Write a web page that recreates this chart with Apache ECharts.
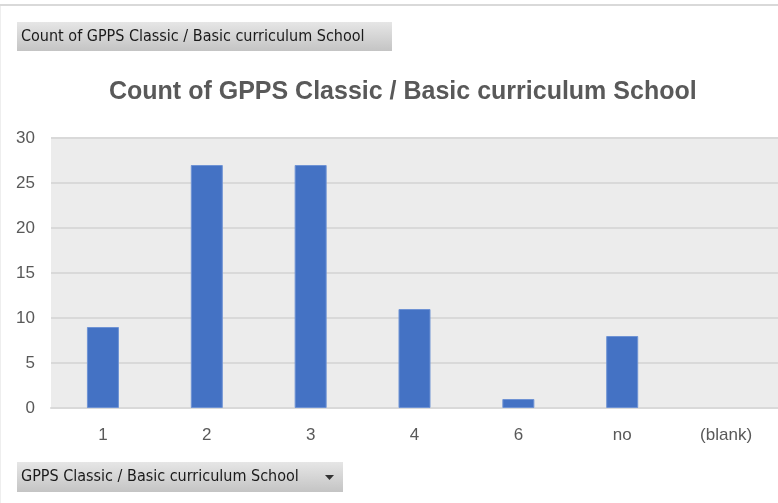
<!DOCTYPE html>
<html><head><meta charset="utf-8">
<script src="https://cdn.jsdelivr.net/npm/echarts@6/dist/echarts.min.js"></script>
<style>html,body{margin:0;padding:0;background:#fff}#c{width:778px;height:503px}</style>
</head><body><div id="c"></div>
<script>
var categories = ['1', '2', '3', '4', '6', 'no', '(blank)'];
var counts = [9, 27, 27, 11, 1, 8, null];
var yTicks = [0, 5, 10, 15, 20, 25, 30];
var titleText = 'Count of GPPS Classic / Basic curriculum School';
var fieldText = 'GPPS Classic / Basic curriculum School';

var chart = echarts.init(document.getElementById('c'), null, {renderer: 'canvas'});
var btnGrad = new echarts.graphic.LinearGradient(0, 0, 0, 1, [
  {offset: 0, color: '#e6e6e6'}, {offset: 1, color: '#c4c4c4'}
]);
chart.setOption({
  animation: false,
  backgroundColor: '#ffffff',
  title: {
    text: titleText, left: 104, top: 75,
    textStyle: {fontFamily: 'Liberation Sans', fontSize: 25, fontWeight: 'bold', color: '#595959'}
  },
  grid: {left: 51, right: 0, top: 138, bottom: 95, show: true, backgroundColor: '#ececec', borderWidth: 0},
  xAxis: {
    type: 'category', data: categories,
    axisLine: {show: true, lineStyle: {color: '#d9d9d9', width: 2}},
    axisTick: {show: false},
    axisLabel: {color: '#595959', fontSize: 17, fontFamily: 'Liberation Sans', margin: 19}
  },
  yAxis: {
    type: 'value', min: yTicks[0], max: yTicks[yTicks.length - 1], interval: 5,
    axisLine: {show: false}, axisTick: {show: false},
    splitLine: {lineStyle: {color: '#d9d9d9', width: 2}},
    axisLabel: {color: '#595959', fontSize: 17, fontFamily: 'Liberation Sans', margin: 16}
  },
  series: [{
    type: 'bar', data: counts, barWidth: 32,
    itemStyle: {color: '#4472c4', borderColor: '#6f93d4', borderWidth: 1}
  }],
  graphic: [
    {type: 'rect', shape: {x: 0, y: 4, width: 778, height: 2}, style: {fill: '#d9d9d9'}},
    {type: 'rect', shape: {x: 0, y: 6, width: 1, height: 497}, style: {fill: '#eeeeee'}},
    {type: 'rect', shape: {x: 17, y: 22, width: 375, height: 29}, style: {fill: btnGrad}},
    {type: 'text', x: 21, y: 37, style: {text: titleText, fontFamily: 'DejaVu Sans Condensed', fontSize: 16, fill: '#1a1a1a', verticalAlign: 'middle'}},
    {type: 'rect', shape: {x: 17, y: 462, width: 326, height: 30}, style: {fill: btnGrad}},
    {type: 'text', x: 21, y: 477, style: {text: fieldText, fontFamily: 'DejaVu Sans Condensed', fontSize: 16, fill: '#1a1a1a', verticalAlign: 'middle'}},
    {type: 'polygon', shape: {points: [[325, 475], [334, 475], [329.5, 480]]}, style: {fill: '#333'}}
  ]
});
</script></body></html>
